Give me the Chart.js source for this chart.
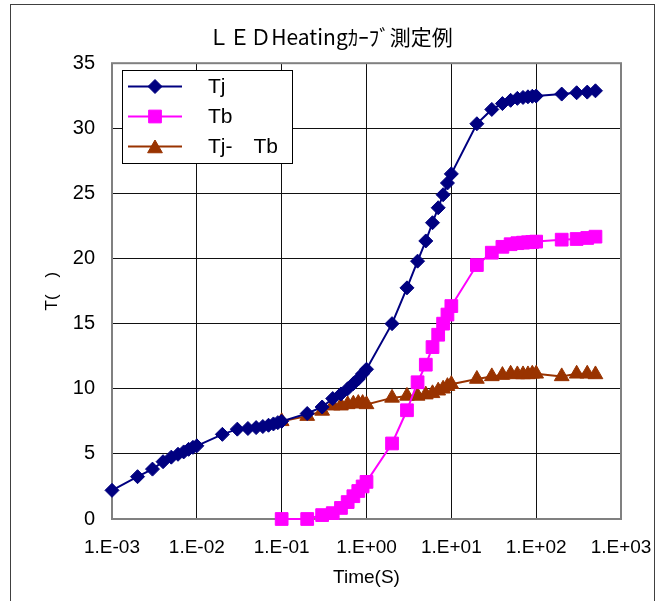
<!DOCTYPE html>
<html><head><meta charset="utf-8">
<script src="https://cdn.jsdelivr.net/npm/chart.js@4.4.0/dist/chart.umd.min.js"></script>
<style>html,body{margin:0;padding:0;background:#fff;} #wrap{position:relative;width:661px;height:601px;}</style>
</head><body><div id="wrap"><canvas id="c" width="661" height="601"></canvas></div>
<script>
const chartTitle = 'ＬＥＤHeatingｶｰﾌﾞ測定例';
const xAxisTitle = 'Time(S)';
const yAxisTitle = 'T(\u3000)';
const xTickValues = [0.001, 0.01, 0.1, 1, 10, 100, 1000];
const xTickLabels = ['1.E-03', '1.E-02', '1.E-01', '1.E+00', '1.E+01', '1.E+02', '1.E+03'];
const seriesNames = ['Tj', 'Tb', 'Tj-\u3000Tb'];

const timeTj = [0.001, 0.002, 0.003, 0.004, 0.005, 0.006, 0.007, 0.008, 0.009,
  0.01, 0.02, 0.03, 0.04, 0.05, 0.06, 0.07, 0.08, 0.09,
  0.1, 0.2, 0.3, 0.4, 0.5, 0.6, 0.7, 0.8, 0.9,
  1, 2, 3, 4, 5, 6, 7, 8, 9,
  10, 20, 30, 40, 50, 60, 70, 80, 90,
  100, 200, 300, 400, 500];
const tj = [2.2, 3.25, 3.83, 4.4, 4.75, 4.97, 5.15, 5.35, 5.5,
  5.62, 6.5, 6.9, 6.95, 7.02, 7.1, 7.2, 7.3, 7.4,
  7.5, 8.1, 8.6, 9.25, 9.6, 10.0, 10.4, 10.75, 11.15,
  11.5, 15.0, 17.75, 19.8, 21.35, 22.75, 23.9, 24.9, 25.8,
  26.5, 30.35, 31.45, 31.9, 32.15, 32.3, 32.37, 32.42, 32.46,
  32.48, 32.63, 32.73, 32.78, 32.88];

const timeTb = [0.1, 0.2, 0.3, 0.4, 0.5, 0.6, 0.7, 0.8, 0.9,
  1, 2, 3, 4, 5, 6, 7, 8, 9,
  10, 20, 30, 40, 50, 60, 70, 80, 90,
  100, 200, 300, 400, 500];
const tb = [0, 0, 0.3, 0.45, 0.85, 1.3, 1.75, 2.15, 2.5,
  2.85, 5.8, 8.35, 10.5, 11.85, 13.2, 14.15, 15.0, 15.7,
  16.35, 19.5, 20.45, 20.9, 21.1, 21.18, 21.22, 21.25, 21.27,
  21.3, 21.45, 21.5, 21.58, 21.68];
const tjMinusTb = [7.5, 7.9, 8.3, 8.7, 8.7, 8.8, 8.85, 8.9, 8.9,
  8.8, 9.3, 9.45, 9.45, 9.55, 9.65, 9.85, 10.0, 10.2,
  10.35, 10.75, 10.95, 11.05, 11.15, 11.1, 11.1, 11.1, 11.15,
  11.15, 10.95, 11.15, 11.15, 11.1];

const colors = ['#000080', '#FF00FF', '#993300'];
const styles = ['rectRot', 'rect', 'triangle'];
const radii = [7, 9, 8.5];

function pts(xs, ys) { return xs.map((x, i) => ({x: x, y: ys[i]})); }

const FONT = "'Liberation Sans', Arial, sans-serif";
Chart.defaults.color = '#000';
Chart.defaults.font.family = FONT;

const framePlugin = {
  id: 'frame',
  beforeDraw(chart) {
    const ctx = chart.ctx;
    ctx.save();
    ctx.fillStyle = '#fff';
    ctx.fillRect(0, 0, chart.width, chart.height);
    ctx.strokeStyle = '#404040';
    ctx.lineWidth = 1;
    ctx.strokeRect(10.5, 4.5, 644, 700);
    ctx.restore();
  }
};

const plotBorderPlugin = {
  id: 'plotBorder',
  beforeDatasetsDraw(chart) {
    const a = chart.chartArea, ctx = chart.ctx;
    ctx.save();
    ctx.strokeStyle = '#808080';
    ctx.lineWidth = 2;
    ctx.strokeRect(a.left, a.top, a.right - a.left, a.bottom - a.top);
    ctx.restore();
  }
};

function marker(ctx, style, x, y, r) {
  ctx.beginPath();
  if (style === 'rectRot') {
    ctx.moveTo(x - r, y); ctx.lineTo(x, y - r); ctx.lineTo(x + r, y); ctx.lineTo(x, y + r);
  } else if (style === 'rect') {
    const s = Math.SQRT1_2 * r;
    ctx.rect(x - s, y - s, 2 * s, 2 * s);
  } else {
    const w = r * Math.sqrt(3) / 2;
    ctx.moveTo(x, y - r); ctx.lineTo(x + w, y + r / 2); ctx.lineTo(x - w, y + r / 2);
  }
  ctx.closePath();
  ctx.fill();
  ctx.stroke();
}

const legendPlugin = {
  id: 'boxLegend',
  afterDraw(chart) {
    const ctx = chart.ctx;
    ctx.save();
    ctx.fillStyle = '#fff';
    ctx.fillRect(122, 70, 170, 93);
    ctx.strokeStyle = '#000';
    ctx.lineWidth = 1;
    ctx.strokeRect(122.5, 70.5, 170, 93);
    const rows = [86.5, 116.5, 146.5];
    chart.data.datasets.forEach((ds, i) => {
      const y = rows[i];
      ctx.strokeStyle = ds.borderColor;
      ctx.lineWidth = 2;
      ctx.beginPath(); ctx.moveTo(128, y); ctx.lineTo(182, y); ctx.stroke();
      ctx.fillStyle = ds.pointBackgroundColor;
      ctx.strokeStyle = ds.pointBorderColor;
      ctx.lineWidth = 1;
      marker(ctx, ds.pointStyle, 155, ds.pointStyle === 'triangle' ? y + 2 : y, ds.pointRadius);
      ctx.fillStyle = '#000';
      ctx.font = '21px ' + FONT;
      ctx.textBaseline = 'middle';
      ctx.textAlign = 'left';
      ctx.fillText(ds.label, 208, y + 1);
    });
    ctx.restore();
  }
};

const seriesX = [timeTj, timeTb, timeTb];
const seriesY = [tj, tb, tjMinusTb];

new Chart(document.getElementById('c'), {
  type: 'line',
  data: {
    datasets: seriesNames.map((name, i) => ({
      label: name,
      data: pts(seriesX[i], seriesY[i]),
      borderColor: colors[i],
      backgroundColor: colors[i],
      pointBackgroundColor: colors[i],
      pointBorderColor: colors[i],
      pointStyle: styles[i],
      pointRadius: radii[i],
      pointBorderWidth: 1,
      borderWidth: 2,
      tension: 0,
      clip: false
    }))
  },
  options: {
    responsive: false,
    animation: false,
    events: [],
    layout: { padding: { left: 40, right: 40, top: 0, bottom: 0 } },
    plugins: {
      legend: { display: false },
      tooltip: { enabled: false },
      title: {
        display: true,
        text: chartTitle,
        color: '#000',
        font: { family: "'Noto Sans CJK JP', sans-serif", size: 21, weight: 'normal' },
        padding: { top: 24, bottom: 14 }
      }
    },
    scales: {
      x: {
        type: 'logarithmic',
        min: 0.001,
        max: 1000,
        afterBuildTicks(scale) { scale.ticks = xTickValues.map(v => ({ value: v })); },
        afterFit(scale) { scale.height = 82; scale.paddingLeft = 0; scale.paddingRight = 0; },
        ticks: {
          autoSkip: false,
          maxRotation: 0,
          padding: 17,
          font: { size: 19 },
          color: '#000',
          callback: (v, i) => xTickLabels[i]
        },
        grid: { color: '#111', lineWidth: 1, drawTicks: false },
        border: { display: false },
        title: { display: true, text: xAxisTitle, font: { size: 19 }, color: '#000', padding: { top: 0, bottom: 12 } }
      },
      y: {
        type: 'linear',
        min: 0,
        max: 35,
        afterFit(scale) { scale.width = 72; },
        ticks: { stepSize: 5, padding: 17, font: { size: 20 }, color: '#000' },
        grid: { color: '#111', lineWidth: 1, drawTicks: false },
        border: { display: false },
        title: { display: true, text: yAxisTitle, font: { size: 17 }, color: '#000', padding: { top: 2, bottom: 0 } }
      }
    }
  },
  plugins: [framePlugin, plotBorderPlugin, legendPlugin]
});
</script></body></html>
